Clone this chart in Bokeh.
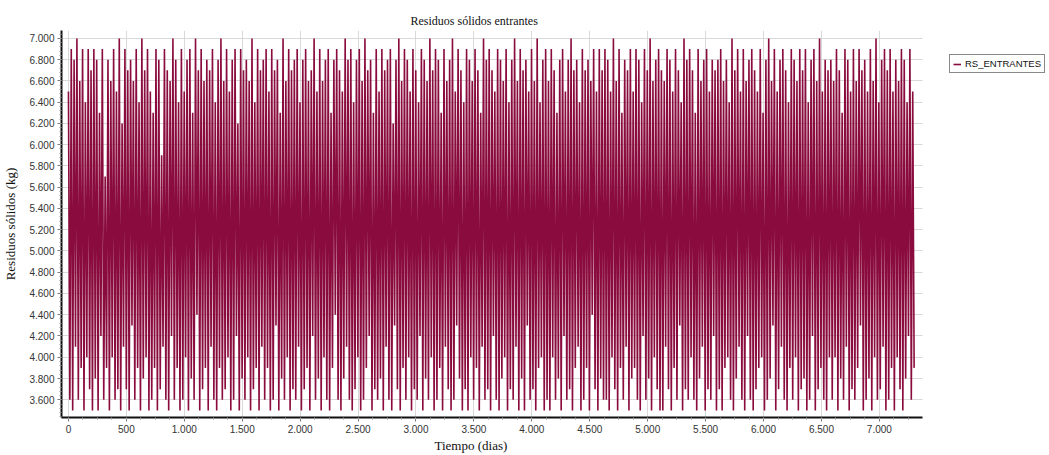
from bokeh.plotting import figure
from bokeh.models import (Range1d, SingleIntervalTicker, CustomJSTickFormatter,
                          Legend, LegendItem, Title)
from bokeh.embed import file_html
from bokeh.resources import INLINE
import numpy as np

TITLE = "Residuos sólidos entrantes"
X_LABEL = "Tiempo (dias)"
Y_LABEL = "Residuos sólidos (kg)"
SERIES_NAME = "RS_ENTRANTES"
DAYS_TOTAL = 7300

rs_entrantes = [
    6.5,3.6,6.9,3.5,6.8,4.1,7.0,3.6,6.6,3.9,6.9,3.5,6.4,4.0,6.9,3.7,6.7,3.5,6.9,3.8,
    6.8,3.5,6.3,4.2,6.9,3.6,5.7,3.9,6.8,3.5,6.6,4.0,6.9,3.6,6.5,3.7,7.0,3.5,6.2,4.1,
    6.9,3.7,6.7,3.5,6.8,4.3,6.6,3.6,6.9,3.9,6.4,3.5,7.0,3.8,6.7,4.0,6.9,3.5,6.5,3.6,
    6.3,3.9,6.9,3.5,6.8,3.7,5.9,4.1,6.9,3.6,6.7,3.5,6.6,4.2,7.0,3.6,6.8,3.9,6.4,3.5,
    6.9,3.6,6.5,4.0,6.8,3.5,6.9,3.8,6.3,3.6,7.0,4.4,6.7,3.5,6.9,3.7,6.6,3.9,6.8,3.5,
    6.7,4.1,6.9,3.6,6.4,3.5,6.8,3.9,7.0,3.6,6.6,3.7,6.9,4.0,6.5,3.5,6.8,3.6,6.9,4.2,
    6.2,3.5,6.9,3.8,6.7,3.6,6.8,4.0,6.6,3.5,7.0,3.7,6.4,3.9,6.9,3.5,6.7,4.1,6.8,3.6,
    6.9,3.9,6.5,3.5,6.9,3.6,6.7,4.3,6.8,3.5,6.3,3.8,7.0,3.6,6.6,4.0,6.9,3.5,6.7,3.7,
    6.8,3.6,6.9,4.1,6.4,3.5,6.8,3.7,6.9,3.9,6.6,3.5,6.7,4.2,7.0,3.6,6.5,3.8,6.9,3.5,
    6.6,4.0,6.8,3.6,6.9,3.5,6.3,3.9,6.8,4.4,6.9,3.6,6.7,3.5,6.5,3.8,7.0,4.1,6.8,3.6,
    6.9,3.5,6.4,3.7,6.8,4.0,6.9,3.5,6.6,3.6,7.0,3.9,6.7,4.2,6.8,3.5,6.3,3.7,6.9,3.6,
    6.5,3.8,6.9,3.5,6.7,4.1,6.8,3.6,6.9,3.5,6.2,4.3,6.8,3.7,7.0,3.5,6.6,3.9,6.9,3.6,
    6.8,4.0,6.5,3.5,6.9,3.7,6.7,3.6,6.4,4.2,6.9,3.5,6.8,3.8,6.6,3.6,7.0,4.0,6.7,3.5,
    6.9,3.6,6.8,3.9,6.3,3.5,6.9,4.1,6.6,3.7,6.8,3.5,7.0,3.6,6.5,4.3,6.9,3.8,6.7,3.5,
    6.4,3.7,6.9,3.5,6.8,4.0,6.6,3.6,6.9,3.9,6.7,3.5,6.3,4.1,7.0,3.6,6.8,3.7,6.9,3.5,
    6.7,4.2,6.5,3.6,6.9,3.5,6.8,3.8,6.6,4.0,6.9,3.5,6.4,3.7,6.8,3.6,7.0,4.1,6.6,3.5,
    6.9,3.8,6.7,3.5,6.8,4.3,6.5,3.6,6.9,3.7,6.6,3.5,7.0,3.9,6.4,4.0,6.8,3.5,6.9,3.6,
    6.6,3.5,6.9,4.0,6.7,3.6,6.3,3.8,6.8,3.5,6.9,4.2,6.5,3.6,6.8,3.7,7.0,3.5,6.7,3.9,
    6.8,4.1,6.4,3.5,6.9,3.6,6.7,3.9,6.8,3.5,6.6,4.4,6.9,3.7,6.5,3.5,6.9,3.8,6.7,3.6,
    6.9,3.6,6.8,3.5,6.5,4.0,7.0,3.7,6.6,3.5,6.9,3.9,6.3,3.6,6.8,4.1,6.7,3.5,6.9,3.8,
    6.5,3.9,6.9,3.6,6.8,3.5,6.4,4.2,6.9,3.6,6.7,3.8,7.0,3.5,6.6,4.0,6.8,3.7,6.9,3.5,
    6.7,3.5,6.6,4.1,6.9,3.7,6.8,3.5,6.5,3.9,6.9,3.6,6.7,4.3,6.4,3.5,7.0,3.7,6.8,3.6,
    6.9,4.0,6.7,3.6,6.3,3.5,6.9,3.8,6.6,4.1,6.8,3.5,6.9,3.7,6.5,3.6,6.8,4.2,6.7,3.5,
    6.8,3.7,6.9,3.5,6.6,3.9,6.8,4.0,6.4,3.6,7.0,3.5,6.7,3.8,6.9,4.1,6.5,3.6,6.9,3.5,
    6.6,4.2,6.8,3.6,6.9,3.5,6.7,3.7,6.5,3.9,6.9,4.0,6.3,3.5,6.8,3.6,7.0,3.8,6.6,4.3,
    6.9,3.5,6.5,3.7,6.8,4.1,6.9,3.6,6.7,3.5,6.4,3.9,6.9,3.6,6.8,4.0,6.6,3.5,6.9,3.7,
    6.7,3.8,6.9,3.5,6.4,3.6,6.8,4.2,6.9,3.5,6.6,3.7,7.0,3.9,6.5,3.6,6.8,3.5,6.7,4.0,
    6.8,3.6,6.6,4.0,6.9,3.5,6.7,3.8,6.3,3.6,6.9,4.1,6.8,3.5,6.5,3.7,6.9,3.6,6.6,3.9,
    6.9,4.3,6.7,3.5,6.8,3.6,6.5,3.8,6.9,3.5,6.6,4.0,7.0,3.6,6.4,3.7,6.8,4.1,6.9,3.5,
    6.7,3.6,6.9,3.9,6.5,3.5,6.8,4.0,6.6,3.7,6.9,3.5,6.8,3.8,6.4,4.2,6.9,3.6,6.5,3.9,
]
days = np.linspace(0, DAYS_TOTAL, len(rs_entrantes))

# frame spans to the right edge; data/axis/grid limited to x in [-60, 7370]
X_START, X_AXIS_END = -60, 7370
FRAME_W = 1049 - 63
px_per_unit = (922 - 63) / (X_AXIS_END - X_START)
x_end = X_START + FRAME_W / px_per_unit

p = figure(width=1049, height=455, output_backend="svg", toolbar_location=None,
           x_range=Range1d(X_START, x_end), y_range=Range1d(3.433, 7.075),
           min_border_left=40, min_border_right=0, min_border_top=30,
           min_border_bottom=38)
p.outline_line_color = None
p.background_fill_color = "white"

r = p.line(days, rs_entrantes, line_color="#8a0b3d", line_width=1.6)

p.title = Title(text=TITLE, align="left", text_font="Liberation Serif",
                text_font_size="12px", text_font_style="normal", text_color="#111111",
                offset=349, standoff=6)

ax = p.xaxis[0]
ay = p.yaxis[0]
ax.bounds = (X_START, X_AXIS_END)
ax.ticker = SingleIntervalTicker(interval=500, num_minor_ticks=4)
ay.ticker = SingleIntervalTicker(interval=0.2, num_minor_ticks=5)
ax.formatter = CustomJSTickFormatter(code="return Math.round(tick).toLocaleString('en-US').replace(/,/g,'.');")
ay.formatter = CustomJSTickFormatter(code="return tick.toFixed(3);")
for a in (ax, ay):
    a.axis_line_color = "#111111"
    a.axis_line_width = 2
    a.major_tick_line_color = "#777777"
    a.minor_tick_line_color = "#999999"
    a.major_tick_out = 4
    a.major_tick_in = 0
    a.minor_tick_out = 2
    a.minor_tick_in = 0
    a.major_label_text_font = "Liberation Sans"
    a.major_label_text_font_size = "10px"
    a.major_label_text_color = "#333333"
    a.axis_label_text_font = "Liberation Serif"
    a.axis_label_text_font_size = "13px"
    a.axis_label_text_font_style = "normal"
    a.axis_label_text_color = "#111111"
ay.axis_label = Y_LABEL
ay.axis_label_standoff = 8
ax.major_label_standoff = 3
ay.major_label_standoff = 3

xlab = Title(text=X_LABEL, align="left", text_font="Liberation Serif",
             text_font_size="13px", text_font_style="normal", text_color="#111111",
             offset=373, standoff=0)
p.add_layout(xlab, "below")

p.xgrid.grid_line_color = "#d9d9d9"
p.ygrid.grid_line_color = "#d9d9d9"
p.xgrid.bounds = (X_START, X_AXIS_END)
p.ygrid.cross_bounds = (X_START, X_AXIS_END)

legend = Legend(items=[LegendItem(label=SERIES_NAME, renderers=[r])],
                location=(888, 344), orientation="vertical",
                border_line_color="#111111", border_line_width=1,
                label_text_font="Liberation Sans", label_text_font_size="9.5px",
                label_text_color="#111111", glyph_width=8, glyph_height=10,
                label_standoff=4, padding=3, spacing=0, margin=0,
                label_height=10, background_fill_alpha=1)
p.add_layout(legend, "center")

open("out.html", "w").write(file_html(p, INLINE))
